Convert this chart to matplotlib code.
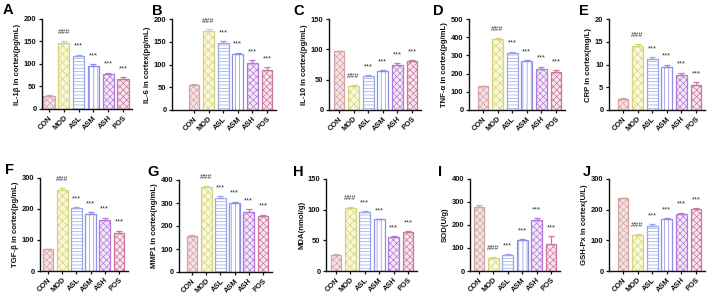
import matplotlib
matplotlib.use("Agg")
import matplotlib.pyplot as plt

plt.rcParams['font.family'] = ['Liberation Sans', 'DejaVu Sans']
plt.rcParams['hatch.linewidth'] = 0.5

groups = ["CON", "MOD", "ASL", "ASM", "ASH", "POS"]

panel_letters = ["A", "B", "C", "D", "E", "F", "G", "H", "I", "J"]
ylabels = ["IL-1β in cortex(pg/mL)", "IL-6 in cortex(pg/mL)", "IL-10 in cortex(pg/mL)",
           "TNF-α in cortex(pg/mL)", "CRP in cortex(mg/L)", "TGF-β in cortex(pg/mL)",
           "MMP1 in cortex(ng/mL)", "MDA(nmol/g)", "SOD(U/g)", "GSH-Px in cortex(U/L)"]

il1b = [29, 146, 118, 95, 78, 67]
il1b_err = [1.5, 6, 3, 4, 3, 3]
il6 = [56, 174, 147, 123, 104, 89]
il6_err = [1.5, 3, 4, 3, 5, 5]
il10 = [97, 40, 56, 64, 74, 80]
il10_err = [1, 2, 2, 2, 3, 2]
tnf = [130, 390, 313, 268, 228, 210]
tnf_err = [4, 8, 8, 8, 10, 10]
crp = [2.5, 14.1, 11.2, 9.5, 7.8, 5.6]
crp_err = [0.2, 0.5, 0.5, 0.5, 0.4, 0.5]
tgf = [70, 262, 202, 183, 164, 122]
tgf_err = [2, 6, 5, 6, 8, 8]
mmp1 = [155, 370, 322, 298, 262, 243]
mmp1_err = [4, 5, 7, 8, 10, 7]
mda = [26, 103, 97, 84, 56, 64]
mda_err = [1, 1, 1, 1, 1, 1]
sod = [280, 56, 68, 133, 220, 119]
sod_err = [5, 4, 5, 4, 10, 33]
gsh = [237, 116, 148, 168, 186, 201]
gsh_err = [2, 5, 4, 5, 4, 5]

values = [il1b, il6, il10, tnf, crp, tgf, mmp1, mda, sod, gsh]
errors = [il1b_err, il6_err, il10_err, tnf_err, crp_err, tgf_err, mmp1_err, mda_err, sod_err, gsh_err]
ymax = [200, 200, 150, 500, 20, 300, 400, 150, 400, 300]
ystep = [50, 50, 50, 100, 5, 100, 100, 50, 100, 100]
marks = [["", "###", "***", "***", "***", "***"]] * 10

edge_colors = ["#d3a3a6", "#d6d47a", "#97a7e6", "#8e8ee6", "#b27ad6", "#c9779e"]
face_colors = ["#f5e2e2", "#f8f7d8", "#ffffff", "#ffffff", "#f4e8f8", "#f8e6ee"]
hatches = ["xxxxx", "xxxx", "-----", "||||", "xxxxx", "xxxxx"]

# layout in pixels: (spine_x, con_center, pos_center, top_y, zero_y)
W, H = 708, 295
layout = [
    (42, 49, 123, 19, 109), (172, 194, 267, 19, 110), (329, 339, 412, 19, 110),
    (469, 483, 556, 19, 110), (609, 623, 696, 19, 110),
    (40, 48, 119, 178, 271), (179, 192, 263, 180, 272), (326, 336, 408, 179, 271),
    (470, 479, 551, 179, 271), (609, 623, 696, 179, 271),
]
letter_pos = [(3, 3), (152, 4), (293, 4), (433, 4), (579, 4),
              (5, 163), (147, 165), (293, 165), (438, 165), (583, 165)]

fig = plt.figure(figsize=(W / 100, H / 100), dpi=100)

for k in range(10):
    sx, c0, c5, ty, zy = layout[k]
    unit = (c5 - c0) / 5.0
    right_px = c5 + 9
    ax = fig.add_axes([sx / W, 1 - zy / H, (right_px - sx) / W, (zy - ty) / H])
    xs = list(range(6))
    vals = values[k]
    errs = errors[k]
    for i in xs:
        ax.bar(i, vals[i], width=0.75, color=face_colors[i], edgecolor=edge_colors[i],
               hatch=hatches[i], linewidth=0.9, zorder=2)
        ax.errorbar(i, vals[i], yerr=[[0], [errs[i]]], fmt='none', ecolor=edge_colors[i],
                    elinewidth=0.9, capsize=2.2, capthick=0.9, zorder=3)
        if marks[k][i]:
            ax.annotate(marks[k][i], (i, vals[i] + errs[i]), xytext=(0, 3.5),
                        textcoords='offset points', ha='center', va='bottom',
                        fontsize=5.3, color='#333333')
    ax.set_xlim(-(c0 - sx) / unit, 5 + 9 / unit)
    ax.set_ylim(0, ymax[k])
    ticks = [t * ystep[k] for t in range(int(round(ymax[k] / ystep[k])) + 1)]
    ax.set_yticks(ticks)
    ax.set_yticklabels([str(t) for t in ticks])
    ax.set_xticks(xs)
    ax.set_xticklabels(groups, rotation=45, ha='right', rotation_mode='anchor')
    for s in ['top', 'right']:
        ax.spines[s].set_visible(False)
    for s in ['left', 'bottom']:
        ax.spines[s].set_linewidth(1.0)
        ax.spines[s].set_color('#111111')
    ax.tick_params(axis='both', direction='out', length=2.5, width=0.9, pad=1.5,
                   labelsize=5.4, colors='#111111')
    for lab in ax.get_xticklabels() + ax.get_yticklabels():
        lab.set_fontweight('bold')
    ax.set_ylabel(ylabels[k], fontsize=5.6, fontweight='bold', labelpad=2, color='#111111')
    lx, ly = letter_pos[k]
    fig.text(lx / W, 1 - ly / H, panel_letters[k], fontsize=10.5, fontweight='bold',
             ha='left', va='top')

fig.savefig("out.png", dpi=100)
